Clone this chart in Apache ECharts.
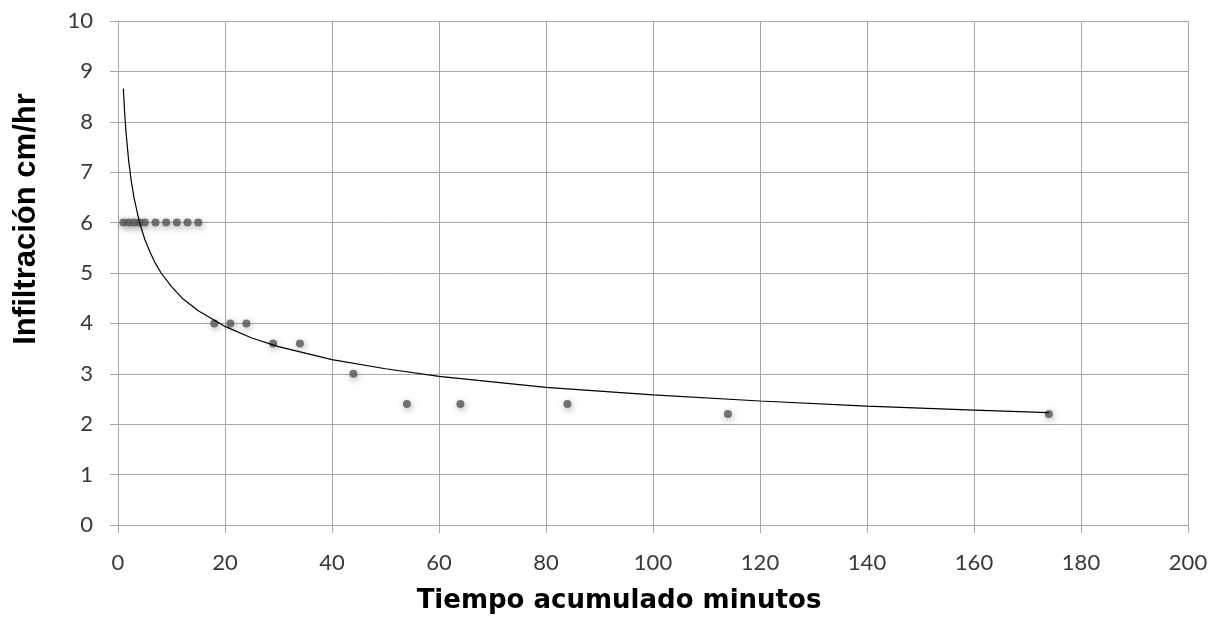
<!DOCTYPE html>
<html>
<head>
<meta charset="utf-8">
<title>Infiltración</title>
<script src="https://cdn.jsdelivr.net/npm/echarts@6/dist/echarts.min.js"></script>
<style>
  html, body { margin: 0; padding: 0; background: #fff; }
  #chart { width: 1211px; height: 620px; }
</style>
</head>
<body>
<div id="chart"></div>
<script>
// measured points (minutes, cm/hr)
const timeMin = [1, 2, 3, 4, 5, 7, 9, 11, 13, 15, 18, 21, 24, 29, 34, 44, 54, 64, 84, 114, 174]
const infiltration = [6, 6, 6, 6, 6, 6, 6, 6, 6, 6, 4, 4, 4, 3.6, 3.6, 3, 2.4, 2.4, 2.4, 2.2, 2.2]

// power trendline
const trendX = [1, 1.25, 1.5, 2, 2.5, 3, 4, 5, 6, 7, 8, 10, 12, 15, 20, 25, 30, 40, 50, 60, 80, 100, 120, 140, 160, 174]
const trendY = [8.66, 8.17, 7.79, 7.22, 6.81, 6.49, 6.01, 5.67, 5.41, 5.19, 5.01, 4.73, 4.50, 4.25, 3.94, 3.71, 3.54, 3.28, 3.10, 2.95, 2.73, 2.58, 2.46, 2.36, 2.28, 2.23]

const xTitle = 'Tiempo acumulado minutos'
const yTitle = 'Infiltración cm/hr'

const gridColor = '#a6a6a6'
const labelStyle = { fontFamily: 'Lato', fontSize: 22, color: '#383838' }

const chart = echarts.init(document.getElementById('chart'))

chart.setOption({
  animation: false,
  backgroundColor: '#fff',
  grid: { left: 118, right: 23, top: 21, bottom: 95 },
  xAxis: {
    type: 'value',
    min: 0,
    max: 200,
    interval: 20,
    axisLine: { show: true, onZero: false, lineStyle: { color: gridColor, width: 1 } },
    axisTick: { show: true, length: 8, lineStyle: { color: gridColor } },
    axisLabel: { ...labelStyle, margin: 27 },
    splitLine: { show: true, lineStyle: { color: gridColor, width: 1 } }
  },
  yAxis: {
    type: 'value',
    min: 0,
    max: 10,
    interval: 1,
    axisLine: { show: true, onZero: false, lineStyle: { color: gridColor, width: 1 } },
    axisTick: { show: true, length: 8, lineStyle: { color: gridColor } },
    axisLabel: { ...labelStyle, margin: 25 },
    splitLine: { show: true, lineStyle: { color: gridColor, width: 1 } }
  },
  graphic: [
    {
      type: 'text',
      x: 619,
      y: 601,
      style: {
        text: xTitle,
        font: 'bold 26px "DejaVu Sans"',
        fill: '#000',
        textAlign: 'center',
        textVerticalAlign: 'middle'
      }
    },
    {
      type: 'text',
      x: 26,
      y: 219,
      rotation: Math.PI / 2,
      style: {
        text: yTitle,
        font: 'bold 31px "Liberation Sans"',
        fill: '#000',
        textAlign: 'center',
        textVerticalAlign: 'middle'
      }
    }
  ],
  series: [
    {
      type: 'scatter',
      data: timeMin.map((t, i) => [t, infiltration[i]]),
      symbol: 'circle',
      symbolSize: 8,
      itemStyle: {
        color: '#555',
        shadowBlur: 7,
        shadowColor: 'rgba(0, 0, 0, 0.4)',
        shadowOffsetX: 1,
        shadowOffsetY: 2
      },
      z: 2
    },
    {
      type: 'line',
      data: trendX.map((t, i) => [t, trendY[i]]),
      showSymbol: false,
      smooth: false,
      lineStyle: { color: '#000', width: 1.2 },
      z: 3
    }
  ]
})
</script>
</body>
</html>
